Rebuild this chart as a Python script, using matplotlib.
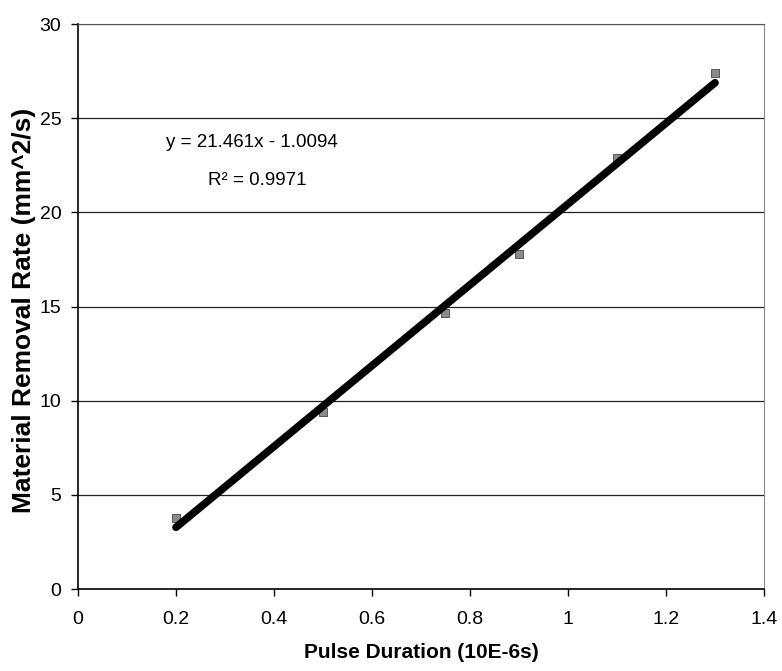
import matplotlib.pyplot as plt
import numpy as np

plt.rcParams['font.family'] = ['Liberation Sans', 'DejaVu Sans']

# Data
pulse_duration = [0.2, 0.5, 0.75, 0.9, 1.1, 1.3]
removal_rate = [3.8, 9.4, 14.65, 17.8, 22.9, 27.4]

# Linear trendline as printed on the chart
slope = 21.461
intercept = -1.0094
r_squared = 0.9971

x_ticks = [0, 0.2, 0.4, 0.6, 0.8, 1, 1.2, 1.4]
x_tick_labels = ["0", "0.2", "0.4", "0.6", "0.8", "1", "1.2", "1.4"]
y_ticks = [0, 5, 10, 15, 20, 25, 30]

fig = plt.figure(figsize=(7.82, 6.71), dpi=100)
ax = fig.add_axes([0.0997, 0.122, 0.8773, 0.842])

# Horizontal gridlines
for yv in y_ticks[1:]:
    ax.axhline(yv, color="#222222", linewidth=0.9, zorder=1)

# Data points
ax.scatter(pulse_duration, removal_rate, marker="s", s=32, color="#8a8a8a",
           edgecolor="#444444", linewidth=0.6, zorder=2)

# Trendline over the data range
x_fit = np.array([min(pulse_duration), max(pulse_duration)])
ax.plot(x_fit, slope * x_fit + intercept, color="black", linewidth=5.5,
        solid_capstyle="round", zorder=3)

ax.set_xlim(0, 1.4)
ax.set_ylim(0, 30)
ax.set_xticks(x_ticks)
ax.set_xticklabels(x_tick_labels)
ax.set_yticks(y_ticks)
ax.tick_params(axis="both", labelsize=14, direction="out", length=5, width=1, color="black")
ax.tick_params(axis="x", pad=11)
ax.tick_params(axis="y", pad=7)

for side in ["left", "bottom"]:
    ax.spines[side].set_color("black")
    ax.spines[side].set_linewidth(1.2)
ax.spines["right"].set_color("#888888")
ax.spines["right"].set_linestyle((0, (2, 1)))
ax.spines["top"].set_color("#555555")
ax.spines["top"].set_linestyle((0, (6, 1)))

ax.set_xlabel("Pulse Duration (10E-6s)", fontsize=15, fontweight="bold")
ax.xaxis.set_label_coords(0.5, -0.113)
ax.xaxis.label.set_va("center")
ax.set_ylabel("Material Removal Rate (mm^2/s)", fontsize=19, fontweight="bold",
              va="center")
ax.yaxis.set_label_coords(-0.079, 0.493)

ax.text(0.18, 23.7, "y = %.3fx - %.4f" % (slope, -intercept), fontsize=13.5,
        ha="left", va="center")
ax.text(0.265, 21.7, "R² = %.4f" % r_squared, fontsize=13.5,
        ha="left", va="center")

fig.savefig("out.png", dpi=100)
